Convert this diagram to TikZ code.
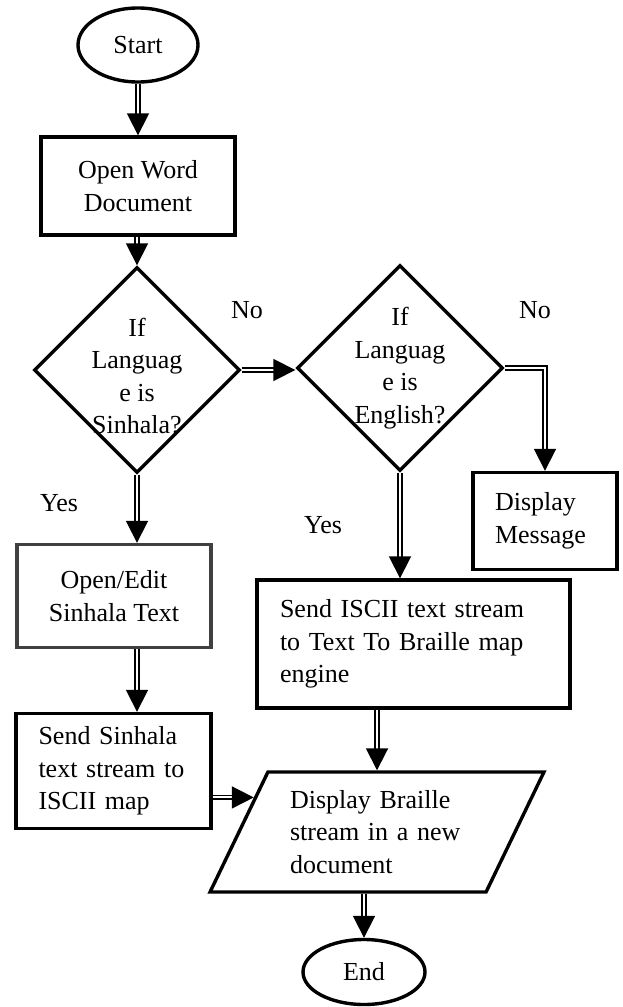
\documentclass[tikz,border=0pt]{standalone}
\usepackage{fontspec}
\setmainfont{Liberation Serif}
\usetikzlibrary{shapes.geometric,arrows.meta,calc}

\begin{document}
\begin{tikzpicture}[x=1pt, y=-1pt,
    font=\fontsize{26}{32.5}\selectfont,
    box/.style={draw, line width=3.4pt, rectangle, inner sep=0pt},
    decision/.style={draw, line width=3.4pt, diamond, minimum width=206pt, minimum height=206pt, inner sep=0pt},
    term/.style={draw, line width=3.4pt, ellipse, inner sep=0pt},
    flow/.style={double, double distance=2pt, line width=1.8pt, -{Triangle[width=22pt,length=22pt]}}]
    \useasboundingbox (0,0) rectangle (622,1007);

    % Start and end
    \node[term, minimum width=120pt, minimum height=74pt] (start) at (138,45) {Start};
    \node[term, minimum width=122pt, minimum height=65pt] (stop) at (364,972) {End};

    % Boxes
    \node[box, minimum width=194pt, minimum height=98pt, align=center] (word) at (138,186) {Open Word\\Document};
    \node[box, draw=black!75, minimum width=194pt, minimum height=103pt, align=center] (edit) at (114,596) {Open/Edit\\Sinhala Text};
    \node[box, minimum width=195pt, minimum height=115pt, text width=150pt, align=left] (ssin) at (113.5,771) {Send Sinhala\\text stream to\\ISCII map};
    \node[box, minimum width=313pt, minimum height=128pt, text width=267pt, align=left] (iscii) at (413.5,644) {Send ISCII text stream\\to Text To Braille map\\engine};
    \node[box, minimum width=144pt, minimum height=97pt, text width=100pt, align=left] (msg) at (545,521) {Display\\Message};

    % Decisions
    \node[decision, label={[align=center, yshift=-6pt]center:If\\Languag\\e is\\Sinhala?}] (sin) at (137,370) {};
    \node[decision, label={[align=center]center:If\\Languag\\e is\\English?}] (eng) at (400,368) {};

    % Output
    \node[draw, line width=3.4pt, trapezium, trapezium left angle=61, trapezium right angle=119,
          trapezium stretches=true, minimum width=334pt, minimum height=120pt, inner sep=0pt,
          text width=174pt, align=left] (disp) at (377,832) {Display Braille\\stream in a new\\document};
    \coordinate (pin) at ($(disp.top left corner)!0.22!(disp.bottom left corner)$);

    % Labels
    \node (no1) at (247,310) {No};
    \node (no2) at (535,310) {No};
    \node (yes1) at (59,503) {Yes};
    \node (yes2) at (323,525) {Yes};

    % Connectors
    \draw[flow] (start.south) -- (start.south |- word.north);
    \draw[flow] (word.south -| sin.north) -- (sin.north);
    \draw[flow] (sin.east) -- (sin.east -| eng.west);
    \draw[flow] (eng.east) -| (msg.north);
    \draw[flow] (sin.south) -- (sin.south |- edit.north);
    \draw[flow] (edit.south -| sin.south) -- (ssin.north -| sin.south);
    \draw[flow] (eng.south) -- (eng.south |- iscii.north);
    \draw[flow] (iscii.south -| disp.north) -- (disp.north);
    \draw[flow] (ssin.east |- pin) -- (pin);
    \draw[flow] (disp.south -| stop.north) -- (stop.north);
\end{tikzpicture}
\end{document}
